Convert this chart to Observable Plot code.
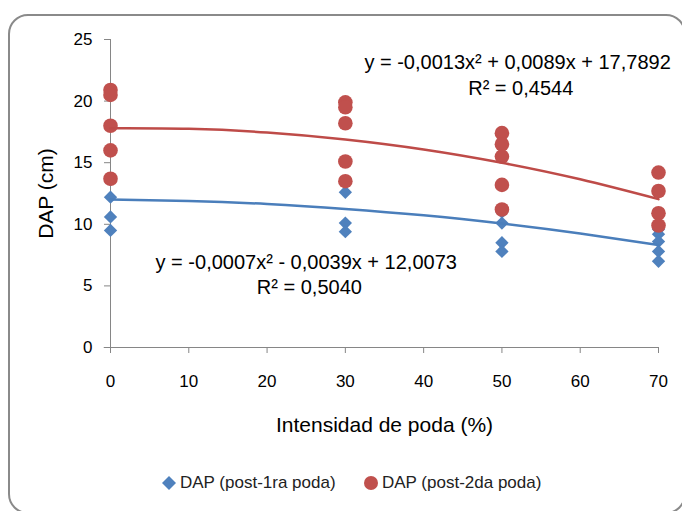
<!DOCTYPE html>
<html><head><meta charset="utf-8">
<script src="https://cdn.jsdelivr.net/npm/d3@7"></script>
<script src="https://cdn.jsdelivr.net/npm/@observablehq/plot@0.6"></script>
<style>
body{margin:0;background:#fff;width:682px;height:511px;overflow:hidden;position:relative;font-family:"Liberation Sans",Arial,sans-serif}
#frame{position:absolute;left:8px;top:14px;width:678px;height:500px;border:2px solid #8a8a8a;border-radius:20px;box-sizing:border-box}
#chart{position:absolute;left:0;top:0}
.leg{position:absolute;top:473px;font-size:17px;color:#222;display:flex;align-items:center;white-space:nowrap}
.leg svg{margin-right:3px}
</style></head>
<body>
<div id="frame"></div>
<div id="chart"></div>
<div class="leg" style="left:161px"><svg width="16" height="16"><path d="M8,1L15,8L8,15L1,8Z" fill="#4F81BD"/></svg>DAP (post-1ra poda)</div>
<div class="leg" style="left:363px"><svg width="16" height="16"><circle cx="8" cy="8" r="7" fill="#C0504D"/></svg>DAP (post-2da poda)</div>
<script>
const xTicks = [0, 10, 20, 30, 40, 50, 60, 70];
const yTicks = [0, 5, 10, 15, 20, 25];
const post1X = [0, 0, 0, 0, 30, 30, 30, 50, 50, 50, 50, 70, 70, 70, 70, 70];
const post1Y = [13.6, 12.2, 10.6, 9.5, 12.6, 10.1, 9.4, 11.0, 10.1, 8.5, 7.8, 9.6, 9.2, 8.6, 7.8, 7.0];
const post2X = [0, 0, 0, 0, 0, 30, 30, 30, 30, 30, 50, 50, 50, 50, 50, 70, 70, 70, 70];
const post2Y = [20.9, 20.5, 18.0, 16.0, 13.7, 19.9, 19.5, 18.2, 15.1, 13.5, 17.4, 16.5, 15.5, 13.2, 11.2, 14.2, 12.7, 10.9, 9.9];
const trendX = [0, 10, 20, 30, 40, 50, 60, 70];
const trend1Y = [12.01, 11.90, 11.65, 11.25, 10.73, 10.06, 9.25, 8.31];
const trend2Y = [17.79, 17.75, 17.45, 16.88, 16.07, 14.99, 13.65, 12.04];
const eqText = ["y = -0,0013x² + 0,0089x + 17,7892", "R² = 0,4544", "y = -0,0007x² - 0,0039x + 12,0073", "R² = 0,5040"];
const eqX = [52.0, 52.4, 25.0, 25.4];
const eqY = [23.1, 21.05, 6.86, 4.84];

const post1 = post1X.map((x, i) => ({x, y: post1Y[i]}));
const post2 = post2X.map((x, i) => ({x, y: post2Y[i]}));
const trend1 = trendX.map((x, i) => ({x, y: trend1Y[i]}));
const trend2 = trendX.map((x, i) => ({x, y: trend2Y[i]}));
const eqs = eqText.map((t, i) => ({t, x: eqX[i], y: eqY[i]}));

const axisColor = "#868686";
const plot = Plot.plot({
  width: 682, height: 460,
  marginLeft: 110, marginRight: 24, marginTop: 39, marginBottom: 113,
  style: {fontFamily: "Liberation Sans, Arial, sans-serif", fontSize: "17px", color: "#000", background: "transparent", overflow: "visible"},
  x: {domain: [0, 70]},
  y: {domain: [0, 25]},
  marks: [
    Plot.axisX({ticks: xTicks, tickSize: 6, tickPadding: 21, stroke: axisColor, tickFormat: d => String(d), label: "Intensidad de poda (%)", labelAnchor: "center", labelOffset: 84, labelArrow: "none"}),
    Plot.axisY({ticks: yTicks, tickSize: 6, tickPadding: 12, stroke: axisColor, tickFormat: d => String(d), label: "DAP (cm)", labelAnchor: "center", labelOffset: 72, labelArrow: "none"}),
    Plot.ruleX([0], {stroke: axisColor}),
    Plot.ruleY([0], {stroke: axisColor, x1: -0.8, x2: 70}),
    Plot.dot(post1, {x: "x", y: "y", symbol: "diamond2", r: 6, fill: "#4F81BD", stroke: "none"}),
    Plot.dot(post2, {x: "x", y: "y", r: 7.3, fill: "#C0504D", stroke: "none"}),
    Plot.line(trend1, {x: "x", y: "y", stroke: "#4A7EBB", strokeWidth: 2.5, curve: "natural"}),
    Plot.line(trend2, {x: "x", y: "y", stroke: "#BE4B48", strokeWidth: 2.5, curve: "natural"}),
    Plot.text(eqs, {x: "x", y: "y", text: "t", fontSize: 20, fill: "#000"})
  ]
});
d3.select(plot).selectAll('g[aria-label="x-axis label"], g[aria-label="y-axis label"]').attr("font-size", 21);
document.getElementById("chart").appendChild(plot);
</script>
</body></html>
